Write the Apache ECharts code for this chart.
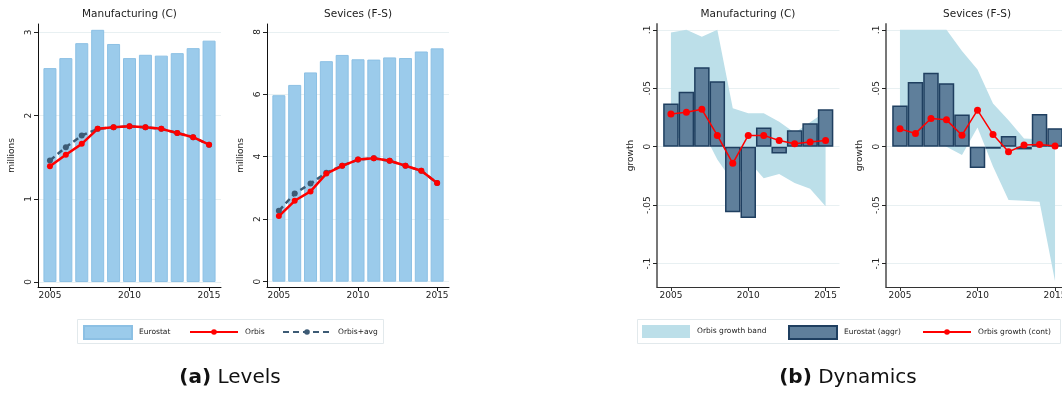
<!DOCTYPE html>
<html><head><meta charset="utf-8">
<script src="https://cdn.jsdelivr.net/npm/echarts@6/dist/echarts.min.js"></script>
<style>html,body{margin:0;padding:0;background:#fff}#c{width:1062px;height:396px}</style>
</head><body><div id="c"></div>
<script>
// ---- data ----
const years = [2005, 2006, 2007, 2008, 2009, 2010, 2011, 2012, 2013, 2014, 2015];
const xTicks = [2005, 2010, 2015];

// (a) Levels, millions
const mfgEurostat = [2.57, 2.69, 2.87, 3.03, 2.86, 2.69, 2.73, 2.72, 2.75, 2.81, 2.90];
const mfgOrbis    = [1.39, 1.53, 1.66, 1.84, 1.86, 1.87, 1.86, 1.84, 1.79, 1.74, 1.65];
const mfgOrbisAvg = [1.46, 1.62, 1.76, 1.84, 1.86, 1.87, 1.86, 1.84, 1.79, 1.74, 1.65];
const srvEurostat = [5.97, 6.30, 6.70, 7.06, 7.26, 7.12, 7.11, 7.18, 7.16, 7.37, 7.47];
const srvOrbis    = [2.10, 2.59, 2.89, 3.46, 3.71, 3.91, 3.95, 3.87, 3.71, 3.55, 3.16];
const srvOrbisAvg = [2.27, 2.82, 3.14, 3.49, 3.71, 3.91, 3.95, 3.87, 3.71, 3.55, 3.16];
const mfgLevelTicks = [0, 1, 2, 3];
const srvLevelTicks = [0, 2, 4, 6, 8];

// (b) Dynamics, growth
const mfgGrowthEurostat = [0.037, 0.047, 0.068, 0.056, -0.056, -0.061, 0.0165, -0.0057, 0.014, 0.020, 0.032];
const mfgGrowthOrbis    = [0.028, 0.0295, 0.032, 0.0097, -0.0142, 0.0097, 0.0097, 0.0054, 0.0026, 0.004, 0.0054];
const mfgBandUpper      = [0.0977, 0.1, 0.094, 0.1, 0.033, 0.0286, 0.0286, 0.0214, 0.012, 0.021, 0.030];
const mfgBandLower      = [0.005, 0.01, 0.015, -0.011, -0.030, -0.012, -0.027, -0.0234, -0.031, -0.036, -0.051];
const srvGrowthEurostat = [0.0352, 0.0554, 0.0634, 0.0543, 0.0276, -0.0182, -0.0017, 0.0091, -0.0023, 0.0281, 0.0159];
const srvGrowthOrbis    = [0.0153, 0.0114, 0.0241, 0.023, 0.0099, 0.0313, 0.0105, -0.0043, 0.0014, 0.002, 0.0006];
const srvBandUpper      = [0.1, 0.1, 0.1, 0.1, 0.082, 0.066, 0.037, 0.0227, 0.0071, 0.0063, 0.002];
const srvBandLower      = [0.01, 0.02, 0.01, 0.0, -0.0071, 0.0165, -0.017, -0.0455, -0.0463, -0.047, -0.115];
const growthTicks = [-0.1, -0.05, 0, 0.05, 0.1];

// ---- helpers ----
const FONT = 'DejaVu Sans';
const pair = arr => years.map((y, i) => [y, arr[i]]);
const stataFmt = v => { if (Math.abs(v) < 1e-9) return '0'; return String(+v.toFixed(3)).replace('0.', '.'); };

const C = {
  lvlBar: '#9bcbeb', lvlBarBorder: '#8cc0e4',
  red: '#ff0000', avg: '#3d5b75',
  band: '#bcdfe9', gBar: '#5f7f9b', gBarBorder: '#1f3f60',
  grid: '#e8f0f2'
};

function xAxis(gi, min, max, lineColor) {
  return {
    type: 'value', gridIndex: gi, min: min, max: max,
    axisLine: { show: true, onZero: false, lineStyle: { color: lineColor, width: 1 } },
    axisTick: { show: true, length: 4, customValues: xTicks, lineStyle: { color: lineColor } },
    axisLabel: { customValues: xTicks, fontSize: 9, fontFamily: FONT, color: '#222', margin: 4, formatter: v => String(v) },
    splitLine: { show: false }
  };
}
function yAxis(gi, min, max, ticks, name, fmt, lineColor, lw) {
  return {
    type: 'value', gridIndex: gi, min: min, max: max,
    name: name, nameLocation: 'middle', nameGap: 22, nameRotate: 90,
    nameTextStyle: { fontSize: 9, fontFamily: FONT, color: '#222' },
    axisLine: { show: true, onZero: false, lineStyle: { color: lineColor, width: lw } },
    axisTick: { show: true, length: 4, customValues: ticks, lineStyle: { color: '#222' } },
    axisLabel: { customValues: ticks, rotate: 90, fontSize: 9, fontFamily: FONT, color: '#222', margin: 5, formatter: fmt },
    splitLine: { show: true, lineStyle: { color: C.grid, width: 1 } }
  };
}

const grids = [
  { left: 38, top: 24, width: 183, height: 263, outerBoundsMode: 'none', containLabel: false },
  { left: 267, top: 24, width: 182, height: 263, outerBoundsMode: 'none', containLabel: false },
  { left: 657, top: 24, width: 182.5, height: 263, outerBoundsMode: 'none', containLabel: false },
  { left: 886, top: 24, width: 183, height: 263, outerBoundsMode: 'none', containLabel: false }
];

const lvlX = [2004.25, 2015.75];
const gX = [2004.1, 2015.9];

function levelSeries(gi, eur, orb, avg) {
  return [
    { name: 'Eurostat', type: 'bar', xAxisIndex: gi, yAxisIndex: gi, data: pair(eur), barWidth: 13,
      itemStyle: { color: C.lvlBar, borderColor: C.lvlBarBorder, borderWidth: 1 } },
    { name: 'Orbis+avg', type: 'line', xAxisIndex: gi, yAxisIndex: gi, data: pair(avg),
      symbol: 'circle', symbolSize: 6, itemStyle: { color: C.avg },
      lineStyle: { color: C.avg, width: 2.5, type: [6, 4] } },
    { name: 'Orbis', type: 'line', xAxisIndex: gi, yAxisIndex: gi, data: pair(orb),
      symbol: 'circle', symbolSize: 6, itemStyle: { color: C.red },
      lineStyle: { color: C.red, width: 2.5 } }
  ];
}
function growthSeries(gi, eur, orb, up, lo) {
  return [
    { name: 'Orbis growth band', type: 'custom', xAxisIndex: gi, yAxisIndex: gi,
      data: years.map((y, i) => [y, lo[i], up[i]]), encode: { x: 0, y: [1, 2] }, clip: true,
      itemStyle: { color: C.band },
      renderItem: function (params, api) {
        if (params.dataIndex !== 0) return null;
        const pts = [];
        for (let i = 0; i < years.length; i++) pts.push(api.coord([years[i], up[i]]));
        for (let i = years.length - 1; i >= 0; i--) pts.push(api.coord([years[i], lo[i]]));
        return { type: 'polygon', shape: { points: pts }, style: { fill: C.band } };
      } },
    { name: 'Eurostat (aggr)', type: 'bar', xAxisIndex: gi, yAxisIndex: gi, data: pair(eur), barWidth: 15.5,
      itemStyle: { color: C.gBar, borderColor: C.gBarBorder, borderWidth: 1.5 } },
    { name: 'Orbis growth (cont)', type: 'line', xAxisIndex: gi, yAxisIndex: gi, data: pair(orb),
      symbol: 'circle', symbolSize: 7, itemStyle: { color: C.red },
      lineStyle: { color: C.red, width: 1.5 } }
  ];
}

const legendText = { fontSize: 7.5, fontFamily: FONT, color: '#222', padding: [0, 0, 0, 2] };
function leg(name, left, h) {
  h = h || 13;
  return { data: [name], left: left, top: 331.5 - h / 2, padding: 0, itemWidth: 48, itemHeight: h,
    textStyle: legendText, selectedMode: false };
}

const titleStyle = { fontSize: 10.5, fontFamily: FONT, color: '#222', fontWeight: 'normal' };
function ttl(text, x) { return { text: text, left: x, top: 9, textAlign: 'center', padding: 0, textStyle: titleStyle }; }

const option = {
  animation: false,
  backgroundColor: '#fff',
  grid: grids,
  title: [
    ttl('Manufacturing (C)', 129.5),
    ttl('Sevices (F-S)', 358),
    ttl('Manufacturing (C)', 748),
    ttl('Sevices (F-S)', 977),
    { text: '{b|(a)} Levels', left: 230, top: 368, textAlign: 'center', padding: 0,
      textStyle: { fontSize: 20, fontFamily: FONT, color: '#111', fontWeight: 'normal',
        rich: { b: { fontSize: 20, fontFamily: FONT, fontWeight: 'bold', color: '#111' } } } },
    { text: '{b|(b)} Dynamics', left: 848, top: 368, textAlign: 'center', padding: 0,
      textStyle: { fontSize: 20, fontFamily: FONT, color: '#111', fontWeight: 'normal',
        rich: { b: { fontSize: 20, fontFamily: FONT, fontWeight: 'bold', color: '#111' } } } }
  ],
  graphic: [
    { type: 'rect', z: -1, shape: { x: 77.5, y: 319.5, width: 306, height: 24 }, style: { fill: '#fff', stroke: '#e2e9ec', lineWidth: 1 } },
    { type: 'rect', z: -1, shape: { x: 637.5, y: 319.5, width: 423, height: 24 }, style: { fill: '#fff', stroke: '#e2e9ec', lineWidth: 1 } }
  ],
  legend: [
    leg({ name: 'Eurostat', icon: 'rect' }, 83),
    leg('Orbis', 189, 7),
    leg('Orbis+avg', 282, 7),
    leg({ name: 'Orbis growth band', icon: 'rect', itemStyle: { color: C.band, borderWidth: 0 } }, 642),
    leg({ name: 'Eurostat (aggr)', icon: 'rect' }, 788),
    leg('Orbis growth (cont)', 922, 7)
  ],
  xAxis: [
    xAxis(0, lvlX[0], lvlX[1], '#111'),
    xAxis(1, lvlX[0], lvlX[1], '#111'),
    xAxis(2, gX[0], gX[1], '#333'),
    xAxis(3, gX[0], gX[1], '#333')
  ],
  yAxis: [
    yAxis(0, -0.06, 3.1, mfgLevelTicks, 'millions', v => String(v), '#111', 1),
    yAxis(1, -0.17, 8.25, srvLevelTicks, 'millions', v => String(v), '#111', 1),
    yAxis(2, -0.12, 0.105, growthTicks, 'growth', stataFmt, '#777', 2),
    yAxis(3, -0.12, 0.105, growthTicks, 'growth', stataFmt, '#777', 2)
  ],
  series: [].concat(
    levelSeries(0, mfgEurostat, mfgOrbis, mfgOrbisAvg),
    levelSeries(1, srvEurostat, srvOrbis, srvOrbisAvg),
    growthSeries(2, mfgGrowthEurostat, mfgGrowthOrbis, mfgBandUpper, mfgBandLower),
    growthSeries(3, srvGrowthEurostat, srvGrowthOrbis, srvBandUpper, srvBandLower)
  )
};

const chart = echarts.init(document.getElementById('c'), null, { renderer: 'canvas' });
chart.setOption(option);
</script>
</body></html>
